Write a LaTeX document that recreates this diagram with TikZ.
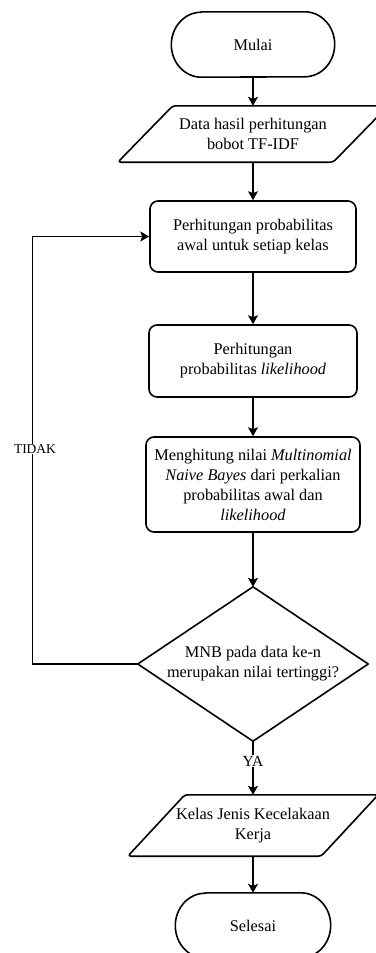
\documentclass[tikz,border=0pt]{standalone}
\usepackage{fontspec}
\setmainfont{Liberation Serif}
\usetikzlibrary{arrows.meta}
\begin{document}
\begin{tikzpicture}[x=1pt,y=1pt,
  txt/.style={font=\fontsize{16.3}{20}\selectfont, align=center, inner sep=0pt},
  procbox/.style={txt, draw, line width=1.6pt, rounded corners=8pt},
  shapeline/.style={line width=1.6pt, line join=round},
  conn/.style={line width=1.2pt, -{Stealth[length=9pt,width=10pt,inset=2pt]}},
  lbl/.style={fill=white, inner sep=1pt}
]
\useasboundingbox[fill=white] (0,0) rectangle (375,-953);

% terminator start
\node[txt, minimum width=163pt, minimum height=65pt] (mulai) at (253,-44.5) {Mulai};
\draw[shapeline] ([xshift=30pt]mulai.north west) -- ([xshift=-30pt]mulai.north east)
  arc[start angle=90, end angle=-90, x radius=30pt, y radius=32.5pt]
  -- ([xshift=30pt]mulai.south west)
  arc[start angle=270, end angle=90, x radius=30pt, y radius=32.5pt] -- cycle;

% input data
\node[txt, minimum width=215pt, minimum height=56pt] (data) at (253,-134) {Data hasil perhitungan\\bobot TF-IDF};
\draw[shapeline, rounded corners=3pt] ([xshift=27.5pt]data.north west) -- ([xshift=27.5pt]data.north east)
  -- ([xshift=-27.5pt]data.south east) -- ([xshift=-27.5pt]data.south west) -- cycle;

% processes
\node[procbox, minimum width=206pt, minimum height=71pt] (p1) at (253,-236.5) {Perhitungan probabilitas\\awal untuk setiap kelas};
\node[procbox, minimum width=208pt, minimum height=72pt] (p2) at (253,-361) {Perhitungan\\probabilitas \textit{likelihood}};
\node[procbox, minimum width=214pt, minimum height=95pt] (p3) at (253,-484.5) {Menghitung nilai \textit{Multinomial}\\\textit{Naive Bayes} dari perkalian\\probabilitas awal dan\\\textit{likelihood}};

% decision
\node[txt, minimum width=230pt, minimum height=154pt] (dec) at (253,-664) {MNB pada data ke-n\\merupakan nilai tertinggi?};
\draw[shapeline] (dec.north) -- (dec.east) -- (dec.south) -- (dec.west) -- cycle;

% output
\node[txt, minimum width=193pt, minimum height=61pt] (kelas) at (253,-825.5) {Kelas Jenis Kecelakaan\\Kerja};
\draw[shapeline, rounded corners=3pt] ([xshift=28.5pt]kelas.north west) -- ([xshift=28.5pt]kelas.north east)
  -- ([xshift=-28.5pt]kelas.south east) -- ([xshift=-28.5pt]kelas.south west) -- cycle;

% terminator end
\node[txt, minimum width=155pt, minimum height=65pt] (selesai) at (253,-925.5) {Selesai};
\draw[shapeline] ([xshift=30pt]selesai.north west) -- ([xshift=-30pt]selesai.north east)
  arc[start angle=90, end angle=-90, x radius=30pt, y radius=32.5pt]
  -- ([xshift=30pt]selesai.south west)
  arc[start angle=270, end angle=90, x radius=30pt, y radius=32.5pt] -- cycle;

% connectors
\draw[conn] (mulai.south) -- (data.north);
\draw[conn] (data.south) -- (p1.north);
\draw[conn] (p1.south) -- (p2.north);
\draw[conn] (p2.south) -- (p3.north);
\draw[conn] (p3.south) -- (dec.north);
\draw[conn] (dec.west) -- ++(-105,0) |- (p1.west);
\node[lbl, font=\fontsize{13.5}{16}\selectfont] (tidak) at (35,-449) {TIDAK};
\draw[conn] (dec.south) -- node[lbl, pos=0.37, font=\fontsize{15.5}{18}\selectfont] (ya) {YA} (kelas.north);
\draw[conn] (kelas.south) -- (selesai.north);
\end{tikzpicture}
\end{document}
